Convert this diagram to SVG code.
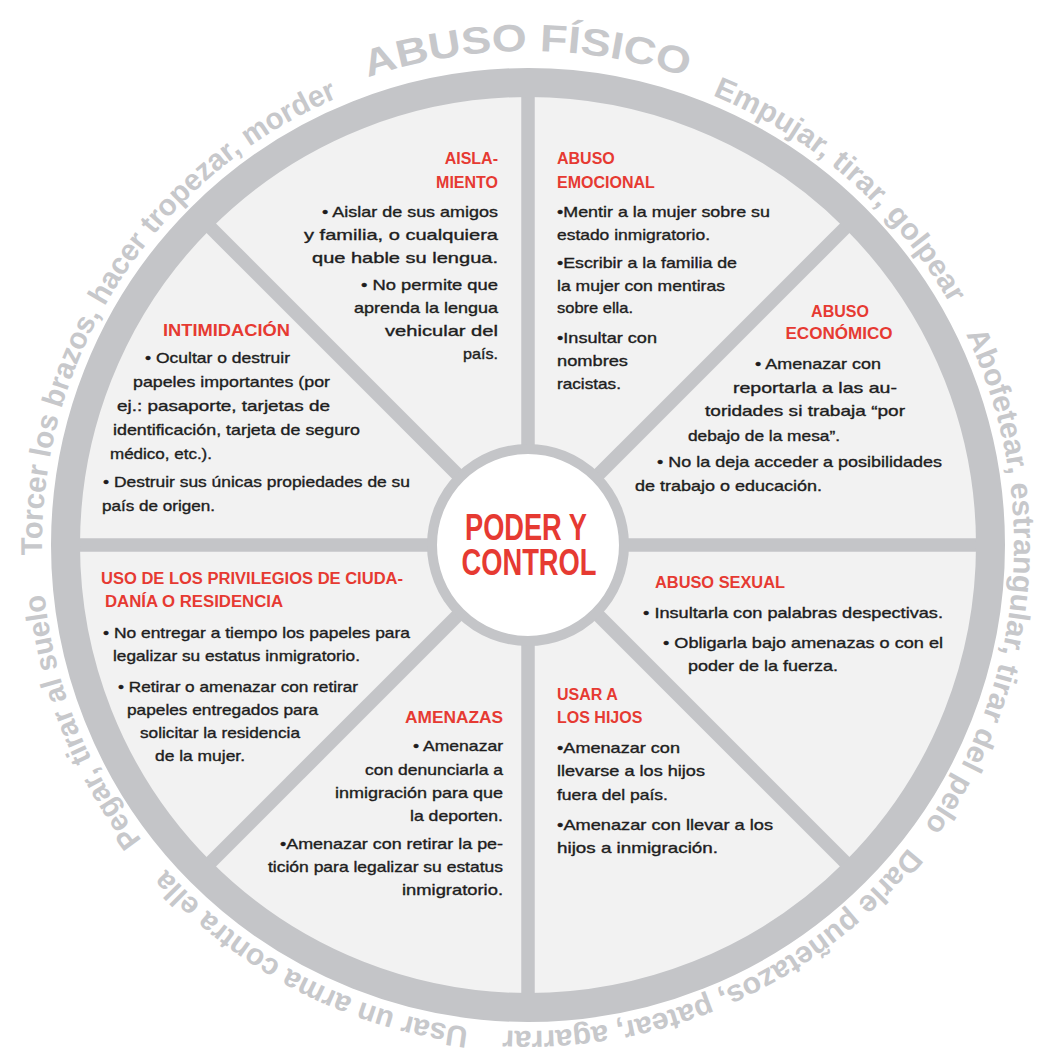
<svg xmlns="http://www.w3.org/2000/svg" width="1040" height="1060" viewBox="0 0 1040 1060">
<style>
.bg{fill:#f2f2f2}
.ring{fill:none;stroke:#c4c5c8;stroke-width:29}
.spoke{stroke:#c4c5c8;stroke-width:13.5}
.hub{fill:#ffffff;stroke:#c4c5c8;stroke-width:10}
.outer{font-family:"Liberation Sans",Arial,sans-serif;font-weight:bold;fill:#c7c8cb;font-size:30px}
.big{font-size:38px}
.hubt{font-family:"Liberation Sans Narrow","Liberation Sans",Arial,sans-serif;font-weight:bold;fill:#e63a32;font-size:37px;text-anchor:middle}
.title{font-family:"Liberation Sans",Arial,sans-serif;font-weight:bold;fill:#e63a32;font-size:16px}
.body{font-family:"Liberation Sans",Arial,sans-serif;fill:#1e1e1e;stroke:#1e1e1e;stroke-width:0.35px;font-size:14.5px}
.end{text-anchor:end}
.mid{text-anchor:middle}
</style>
<defs>
<path id="pTorcer" d="M42.1,555.2 A486,486 0 0 1 340.4,96.7"/>
<path id="pPegar" d="M141.9,840.2 A486,486 0 0 1 44.2,591.6"/>
<path id="pUsar" d="M468.8,1027.4 A486,486 0 0 1 164.6,867.7"/>
<path id="pDarle" d="M908.3,847.5 A486,486 0 0 1 500.9,1030.2"/>
<path id="pAbof" d="M965.9,334.2 A486,486 0 0 1 923.2,827.9"/>
<path id="pEmp" d="M712.4,95.4 A486,486 0 0 1 951.0,305.7"/>
<path id="pFis" d="M368.0,77.6 A494,494 0 0 1 688.0,77.6"/>
</defs>
<rect width="1040" height="1060" fill="#ffffff"/>
<g id="wheel">
<circle class="bg" cx="528" cy="545" r="462"/>
</g>
<g id="connectors">
<line class="spoke" x1="79" y1="545" x2="977" y2="545"/>
<line class="spoke" x1="528" y1="96" x2="528" y2="994"/>
<line class="spoke" x1="210.5" y1="227.5" x2="845.5" y2="862.5"/>
<line class="spoke" x1="845.5" y1="227.5" x2="210.5" y2="862.5"/>
</g>
<g id="rim">
<circle class="ring" cx="528" cy="545" r="462.5"/>
</g>
<g id="outer-text" class="outer">
<text><textPath href="#pTorcer" textLength="578" lengthAdjust="spacingAndGlyphs">Torcer los brazos, hacer tropezar, morder</textPath></text>
<text><textPath href="#pPegar" textLength="268" lengthAdjust="spacingAndGlyphs">Pegar, tirar al suelo</textPath></text>
<text><textPath href="#pUsar" textLength="349" lengthAdjust="spacingAndGlyphs">Usar un arma contra ella</textPath></text>
<text><textPath href="#pDarle" textLength="462" lengthAdjust="spacingAndGlyphs">Darle puñetazos, patear, agarrar</textPath></text>
<text><textPath href="#pAbof" textLength="518" lengthAdjust="spacingAndGlyphs">Abofetear, estrangular, tirar del pelo</textPath></text>
<text><textPath href="#pEmp" textLength="322" lengthAdjust="spacingAndGlyphs">Empujar, tirar, golpear</textPath></text>
<text class="big"><textPath href="#pFis" textLength="324" lengthAdjust="spacingAndGlyphs">ABUSO FÍSICO</textPath></text>
</g>
<g id="aislamiento">
<text class="title end" x="498" y="164">AISLA-</text>
<text class="title end" x="498" y="188">MIENTO</text>
<g class="body end">
<text x="498" y="217" textLength="176" lengthAdjust="spacingAndGlyphs">• Aislar de sus amigos</text>
<text x="498" y="240" textLength="194" lengthAdjust="spacingAndGlyphs">y familia, o cualquiera</text>
<text x="498" y="263" textLength="186" lengthAdjust="spacingAndGlyphs">que hable su lengua.</text>
<text x="498" y="290" textLength="137" lengthAdjust="spacingAndGlyphs">• No permite que</text>
<text x="498" y="313" textLength="144" lengthAdjust="spacingAndGlyphs">aprenda la lengua</text>
<text x="498" y="336" textLength="113" lengthAdjust="spacingAndGlyphs">vehicular del</text>
<text x="498" y="359" textLength="35" lengthAdjust="spacingAndGlyphs">país.</text>
</g>
</g>
<g id="abuso-emocional">
<text class="title" x="557" y="164">ABUSO</text>
<text class="title" x="557" y="188">EMOCIONAL</text>
<g class="body">
<text x="557" y="217" textLength="213" lengthAdjust="spacingAndGlyphs">•Mentir a la mujer sobre su</text>
<text x="557" y="240" textLength="153" lengthAdjust="spacingAndGlyphs">estado inmigratorio.</text>
<text x="557" y="268" textLength="180" lengthAdjust="spacingAndGlyphs">•Escribir a la familia de</text>
<text x="557" y="291" textLength="168" lengthAdjust="spacingAndGlyphs">la mujer con mentiras</text>
<text x="557" y="313" textLength="76" lengthAdjust="spacingAndGlyphs">sobre ella.</text>
<text x="557" y="343" textLength="100" lengthAdjust="spacingAndGlyphs">•Insultar con</text>
<text x="557" y="366" textLength="71" lengthAdjust="spacingAndGlyphs">nombres</text>
<text x="557" y="389" textLength="64" lengthAdjust="spacingAndGlyphs">racistas.</text>
</g>
</g>
<g id="intimidacion">
<text class="title" x="163" y="336" textLength="127" lengthAdjust="spacingAndGlyphs">INTIMIDACIÓN</text>
<g class="body">
<text x="145" y="363" textLength="145" lengthAdjust="spacingAndGlyphs">• Ocultar o destruir</text>
<text x="133" y="387" textLength="197" lengthAdjust="spacingAndGlyphs">papeles importantes (por</text>
<text x="117" y="411" textLength="213" lengthAdjust="spacingAndGlyphs">ej.: pasaporte, tarjetas de</text>
<text x="113" y="435" textLength="247" lengthAdjust="spacingAndGlyphs">identificación, tarjeta de seguro</text>
<text x="110" y="459" textLength="102" lengthAdjust="spacingAndGlyphs">médico, etc.).</text>
<text x="103" y="487" textLength="307" lengthAdjust="spacingAndGlyphs">• Destruir sus únicas propiedades de su</text>
<text x="102" y="511" textLength="113" lengthAdjust="spacingAndGlyphs">país de origen.</text>
</g>
</g>
<g id="abuso-economico">
<text class="title mid" x="840" y="317">ABUSO</text>
<text class="title mid" x="839" y="339" textLength="107" lengthAdjust="spacingAndGlyphs">ECONÓMICO</text>
<g class="body">
<text x="755" y="369" textLength="126" lengthAdjust="spacingAndGlyphs">• Amenazar con</text>
<text x="733" y="393" textLength="164" lengthAdjust="spacingAndGlyphs">reportarla a las au-</text>
<text x="705" y="416" textLength="200" lengthAdjust="spacingAndGlyphs">toridades si trabaja “por</text>
<text x="688" y="441" textLength="152" lengthAdjust="spacingAndGlyphs">debajo de la mesa”.</text>
<text x="657" y="467" textLength="285" lengthAdjust="spacingAndGlyphs">• No la deja acceder a posibilidades</text>
<text x="635" y="491" textLength="187" lengthAdjust="spacingAndGlyphs">de trabajo o educación.</text>
</g>
</g>
<g id="uso-privilegios">
<text class="title" x="101" y="584" textLength="302" lengthAdjust="spacingAndGlyphs">USO DE LOS PRIVILEGIOS DE CIUDA-</text>
<text class="title" x="105" y="607" textLength="178" lengthAdjust="spacingAndGlyphs">DANÍA O RESIDENCIA</text>
<g class="body">
<text x="103" y="638" textLength="307" lengthAdjust="spacingAndGlyphs">• No entregar a tiempo los papeles para</text>
<text x="113" y="661" textLength="247" lengthAdjust="spacingAndGlyphs">legalizar su estatus inmigratorio.</text>
<text x="118" y="692" textLength="240" lengthAdjust="spacingAndGlyphs">• Retirar o amenazar con retirar</text>
<text x="127" y="715" textLength="191" lengthAdjust="spacingAndGlyphs">papeles entregados para</text>
<text x="140" y="738" textLength="160" lengthAdjust="spacingAndGlyphs">solicitar la residencia</text>
<text x="155" y="761" textLength="90" lengthAdjust="spacingAndGlyphs">de la mujer.</text>
</g>
</g>
<g id="abuso-sexual">
<text class="title" x="655" y="588" textLength="130" lengthAdjust="spacingAndGlyphs">ABUSO SEXUAL</text>
<g class="body">
<text x="643" y="618" textLength="300" lengthAdjust="spacingAndGlyphs">• Insultarla con palabras despectivas.</text>
<text x="663" y="648" textLength="280" lengthAdjust="spacingAndGlyphs">• Obligarla bajo amenazas o con el</text>
<text x="688" y="671" textLength="150" lengthAdjust="spacingAndGlyphs">poder de la fuerza.</text>
</g>
</g>
<g id="amenazas">
<text class="title end" x="503" y="723" textLength="98" lengthAdjust="spacingAndGlyphs">AMENAZAS</text>
<g class="body end">
<text x="503" y="751" textLength="90" lengthAdjust="spacingAndGlyphs">• Amenazar</text>
<text x="503" y="775" textLength="138" lengthAdjust="spacingAndGlyphs">con denunciarla a</text>
<text x="503" y="798" textLength="168" lengthAdjust="spacingAndGlyphs">inmigración para que</text>
<text x="503" y="821" textLength="93" lengthAdjust="spacingAndGlyphs">la deporten.</text>
<text x="503" y="849" textLength="223" lengthAdjust="spacingAndGlyphs">•Amenazar con retirar la pe-</text>
<text x="503" y="872" textLength="235" lengthAdjust="spacingAndGlyphs">tición para legalizar su estatus</text>
<text x="503" y="895" textLength="101" lengthAdjust="spacingAndGlyphs">inmigratorio.</text>
</g>
</g>
<g id="usar-hijos">
<text class="title" x="557" y="700">USAR A</text>
<text class="title" x="557" y="723">LOS HIJOS</text>
<g class="body">
<text x="557" y="753" textLength="123" lengthAdjust="spacingAndGlyphs">•Amenazar con</text>
<text x="557" y="776" textLength="148" lengthAdjust="spacingAndGlyphs">llevarse a los hijos</text>
<text x="557" y="800" textLength="111" lengthAdjust="spacingAndGlyphs">fuera del país.</text>
<text x="557" y="830" textLength="216" lengthAdjust="spacingAndGlyphs">•Amenazar con llevar a los</text>
<text x="557" y="853" textLength="161" lengthAdjust="spacingAndGlyphs">hijos a inmigración.</text>
</g>
</g>
<g id="hub">
<circle class="hub" cx="528" cy="545" r="96"/>
<text class="hubt" x="526" y="540" textLength="122" lengthAdjust="spacingAndGlyphs">PODER Y</text>
<text class="hubt" x="529" y="575" textLength="135" lengthAdjust="spacingAndGlyphs">CONTROL</text>
</g>
</svg>
